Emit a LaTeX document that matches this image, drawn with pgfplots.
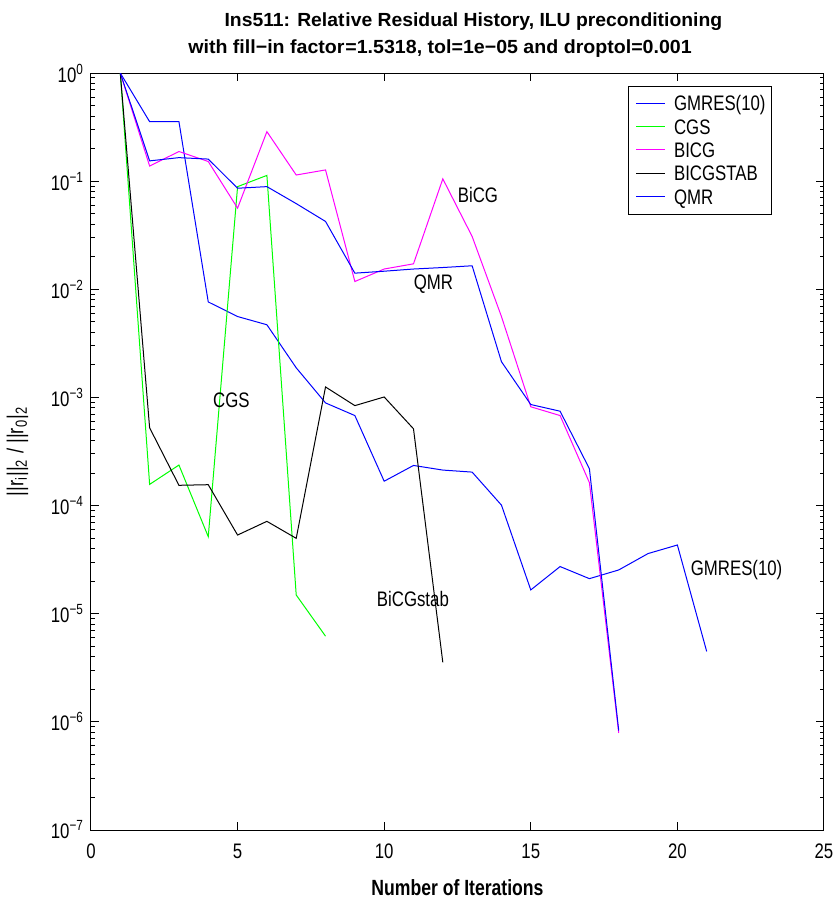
\documentclass[border=0pt]{standalone}
\usepackage{pgfplots}
\pgfplotsset{compat=1.18}
\usepackage{graphicx}
\usepackage{fontspec}
\setmainfont{Liberation Sans}[FakeStretch=0.8]
\newfontfamily\titlefont{Liberation Sans}
\newcommand{\sz}{\fontsize{10.5}{12}\selectfont}
\newcommand{\tsz}{\titlefont\fontsize{9.5}{11}\selectfont\bfseries}
\definecolor{mblue}{RGB}{0,0,255}
\definecolor{mgreen}{RGB}{0,255,0}
\definecolor{mmag}{RGB}{255,0,255}
\definecolor{mblack}{RGB}{0,0,0}
\newlength\segA
\newlength\segB
\begin{document}
\settowidth\segA{\tsz ive Residual History, ILU pr}%
\settowidth\segB{\tsz =1.5318, tol=1e−05 and dro}%
\pgfmathsetmacro\sxA{125/\the\segA}%
\pgfmathsetmacro\sxB{125/\the\segB}%
\begin{tikzpicture}
\begin{axis}[
  name=ax,
  scale only axis, width=366.5pt, height=378.5pt,
  ymode=log, xmin=0, xmax=25, ymin=1e-7, ymax=1,
  xtick={0,5,10,15,20,25},
  ytick={1e-7,1e-6,1e-5,1e-4,1e-3,1e-2,1e-1,1},
  yticklabels={10\textsuperscript{−7},10\textsuperscript{−6},10\textsuperscript{−5},10\textsuperscript{−4},10\textsuperscript{−3},10\textsuperscript{−2},10\textsuperscript{−1},10\textsuperscript{0}},
  minor ytick={2e-7,3e-7,4e-7,5e-7,6e-7,7e-7,8e-7,9e-7,
    2e-6,3e-6,4e-6,5e-6,6e-6,7e-6,8e-6,9e-6,
    2e-5,3e-5,4e-5,5e-5,6e-5,7e-5,8e-5,9e-5,
    2e-4,3e-4,4e-4,5e-4,6e-4,7e-4,8e-4,9e-4,
    2e-3,3e-3,4e-3,5e-3,6e-3,7e-3,8e-3,9e-3,
    2e-2,3e-2,4e-2,5e-2,6e-2,7e-2,8e-2,9e-2,
    2e-1,3e-1,4e-1,5e-1,6e-1,7e-1,8e-1,9e-1},
  tick align=inside, xtick pos=both, ytick pos=both,
  major tick length=4pt, minor tick length=2.2pt,
  every tick/.style={black, line width=0.5pt},
  axis line style={line width=0.5pt},
  /pgf/number format/assume math mode=true,
  tick label style={font=\sz},
  xticklabel style={anchor=base, yshift=-14pt},
  xlabel={Number of Iterations},
  xlabel style={font=\fontsize{11}{13}\selectfont\bfseries, at={(axis description cs:0.5,0)}, anchor=base, yshift=-32.5pt},
  ylabel={||r\textsubscript{i}||\textsubscript{2} / ||r\textsubscript{0}|\textsubscript{2}},
  ylabel style={font=\fontsize{11.5}{13}\selectfont, at={(axis description cs:-0.076,0.5)}, anchor=south},
]
\addplot[mblue, line width=0.5pt] coordinates {(1,1)(2,0.355)(3,0.355)(4,0.00764)(5,0.0056)(6,0.0047)(7,0.00188)(8,0.00089)(9,0.00068)(10,1.68e-4)(11,2.35e-4)(12,2.13e-4)(13,2.04e-4)(14,1.01e-4)(15,1.66e-5)(16,2.73e-5)(17,2.11e-5)(18,2.54e-5)(19,3.6e-5)(20,4.32e-5)(21,4.48e-6)};
\addplot[mgreen, line width=0.5pt] coordinates {(1,1)(2,1.57e-4)(3,2.37e-4)(4,5.16e-5)(5,0.089)(6,0.113)(7,1.49e-5)(8,6.2e-6)};
\addplot[mmag, line width=0.5pt] coordinates {(1,1)(2,0.138)(3,0.188)(4,0.152)(5,0.0563)(6,0.287)(7,0.114)(8,0.127)(9,0.0118)(10,0.0154)(11,0.0172)(12,0.105)(13,0.0308)(14,0.0056)(15,8.2e-4)(16,6.8e-4)(17,1.63e-4)(18,7.9e-7)};
\addplot[mblack, line width=0.5pt] coordinates {(1,1)(2,5.24e-4)(3,1.54e-4)(4,1.56e-4)(5,5.34e-5)(6,7.15e-5)(7,4.98e-5)(8,1.25e-3)(9,8.4e-4)(10,1.01e-3)(11,5.13e-4)(12,3.55e-6)};
\addplot[mblue, line width=0.5pt] coordinates {(1,1)(2,0.154)(3,0.165)(4,0.16)(5,0.086)(6,0.089)(7,0.062)(8,0.0424)(9,0.0141)(10,0.0147)(11,0.0154)(12,0.0159)(13,0.0165)(14,0.00214)(15,8.6e-4)(16,7.46e-4)(17,2.19e-4)(18,8.3e-7)};
\node[font=\sz] at (axis cs:13.2,0.0748) {BiCG};
\node[font=\sz] at (axis cs:11.68,0.01127) {QMR};
\node[font=\sz] at (axis cs:4.79,9.36e-4) {CGS};
\node[font=\sz] at (axis cs:10.98,1.36e-5) {BiCGstab};
\node[font=\sz] at (axis cs:22.02,2.52e-5) {GMRES(10)};
% legend
\fill[white] (axis description cs:0.7327,0.9819) rectangle (axis description cs:0.9283,0.8133);
\draw[black, line width=0.5pt] (axis description cs:0.7327,0.9819) rectangle (axis description cs:0.9283,0.8133);
\draw[mblack, line width=0.5pt] (axis description cs:0.7441,0.8675) -- (axis description cs:0.7827,0.8675);
\draw[mgreen, line width=0.5pt] (axis description cs:0.7441,0.9291) -- (axis description cs:0.7827,0.9291);
\draw[mblue, line width=0.5pt] (axis description cs:0.7441,0.9600) -- (axis description cs:0.7827,0.9600);
\draw[mmag, line width=0.5pt] (axis description cs:0.7441,0.8983) -- (axis description cs:0.7827,0.8983);
\draw[mblue, line width=0.5pt] (axis description cs:0.7441,0.8366) -- (axis description cs:0.7827,0.8366);
\node[font=\sz, anchor=base west, inner sep=0pt, yshift=-3.76pt] at (axis description cs:0.7950,0.9600) {GMRES(10)};
\node[font=\sz, anchor=base west, inner sep=0pt, yshift=-3.76pt] at (axis description cs:0.7950,0.9291) {CGS};
\node[font=\sz, anchor=base west, inner sep=0pt, yshift=-3.76pt] at (axis description cs:0.7950,0.8983) {BICG};
\node[font=\sz, anchor=base west, inner sep=0pt, yshift=-3.76pt] at (axis description cs:0.7950,0.8675) {BICGSTAB};
\node[font=\sz, anchor=base west, inner sep=0pt, yshift=-3.76pt] at (axis description cs:0.7950,0.8366) {QMR};
\end{axis}
\node[font=\tsz, anchor=base east, inner sep=0pt] at ([xshift=127pt,yshift=23.15pt]ax.north west) {\scalebox{\sxA}[1]{Ins511: Relat}};
\node[font=\tsz, anchor=base west, inner sep=0pt] at ([xshift=127pt,yshift=23.15pt]ax.north west) {\scalebox{\sxA}[1]{ive Residual History, ILU preconditioning}};
\node[font=\tsz, anchor=base east, inner sep=0pt] at ([xshift=127pt,yshift=9.5pt]ax.north west) {\scalebox{\sxB}[1]{with fill−in factor}};
\node[font=\tsz, anchor=base west, inner sep=0pt] at ([xshift=127pt,yshift=9.5pt]ax.north west) {\scalebox{\sxB}[1]{=1.5318, tol=1e−05 and droptol=0.001}};
\path[use as bounding box] ([xshift=-43pt,yshift=-36pt]ax.south west) rectangle ([xshift=5.35pt,yshift=36.5pt]ax.north east);
\end{tikzpicture}
\end{document}
